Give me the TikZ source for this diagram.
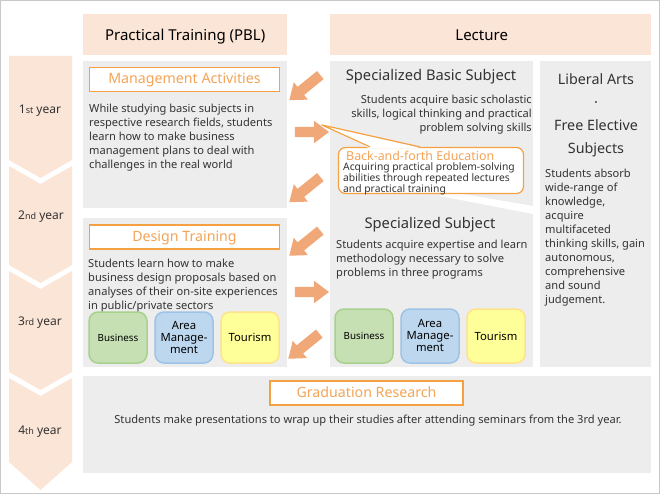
\documentclass[tikz,border=0pt]{standalone}
\usepackage{fontspec}
\setmainfont{Noto Sans}
\usepackage{tikz}
\usetikzlibrary{positioning,shapes.arrows}

\definecolor{peach}{HTML}{FBE5D6}
\definecolor{panelgray}{HTML}{EDEDED}
\definecolor{ttlorange}{HTML}{F5A142}
\definecolor{ttltext}{HTML}{F4A457}
\definecolor{textgray}{HTML}{333333}
\definecolor{arrowfill}{HTML}{F1A878}
\definecolor{framegray}{HTML}{C8C8C8}
\definecolor{bizgreen}{HTML}{C6E0B4}
\definecolor{bizgreenline}{HTML}{A9D18E}
\definecolor{areablue}{HTML}{BDD7EE}
\definecolor{areablueline}{HTML}{9DC3E6}
\definecolor{touryellow}{HTML}{FFFF99}
\definecolor{touryellowline}{HTML}{FFE38A}

\newcommand\ordsfx[1]{{\fontsize{9}{10}\selectfont #1}}

\begin{document}
\begin{tikzpicture}[x=1pt, y=-1pt,
    head/.style={fill=peach, inner sep=0pt, anchor=north west, minimum height=41pt, text height=11pt, text depth=0pt, font=\fontsize{15}{18}\selectfont, text=black},
    panel/.style={fill=panelgray, inner sep=0pt, anchor=north west},
    ttlbox/.style={draw=ttlorange, line width=1.3pt, fill=white, minimum width=190pt, minimum height=24pt, inner sep=0pt, text height=8.6pt, text depth=0pt, font=\fontsize{14.2}{16}\selectfont, text=ttltext},
    body/.style={inner sep=0pt, anchor=north west, align=left, text=textgray, font=\fontsize{11.1}{14}\selectfont},
    subj/.style={inner sep=0pt, anchor=base, text=textgray, font=\fontsize{14.7}{17}\selectfont},
    prog/.style={line width=1.5pt, rounded corners=9pt, minimum width=58pt, inner sep=0pt, align=center, text=black, font=\fontsize{11.3}{12}\selectfont},
    biz/.style={prog, draw=bizgreenline, fill=bizgreen, font=\fontsize{9.8}{12}\selectfont},
    area/.style={prog, draw=areablueline, fill=areablue},
    tour/.style={prog, draw=touryellowline, fill=touryellow},
    yearlbl/.style={inner sep=0pt, font=\fontsize{12}{14}\selectfont, text=textgray},
    fwdarrow/.style={single arrow, fill=arrowfill, inner xsep=0pt, inner ysep=5pt, minimum height=34pt, single arrow head extend=6pt, single arrow tip angle=74},
    backarrow/.style={fwdarrow, rotate=219, minimum height=40pt}
]
\useasboundingbox (0,0) rectangle (660,494);
\draw[framegray] (0.5,0.5) rectangle (659.5,493.5);

\fill[peach] (9,56) -- (72,56) -- (72,160) -- (40.5,178) -- (9,160) -- cycle;
\fill[peach] (9,166) -- (40.5,184) -- (72,166) -- (72,265) -- (40.5,283) -- (9,265) -- cycle;
\fill[peach] (9,271) -- (40.5,289) -- (72,271) -- (72,372) -- (40.5,390) -- (9,372) -- cycle;
\fill[peach] (9,378) -- (40.5,396) -- (72,378) -- (72,462) -- (40.5,490) -- (9,462) -- cycle;

\node[yearlbl] (year1) at (40,111) {1\ordsfx{st} year};
\node[yearlbl] (year2) at (41,217) {2\ordsfx{nd} year};
\node[yearlbl] (year3) at (40,323) {3\ordsfx{rd} year};
\node[yearlbl] (year4) at (40,432) {4\ordsfx{th} year};

\node[head, minimum width=204pt] (pbl) at (83,14) {Practical Training (PBL)};
\node[head, minimum width=321pt] (lecture) at (330,14) {Lecture\hspace*{18pt}};

\node[panel, minimum width=204pt, minimum height=147pt] (mgmt) at (83,61) {};
\node[panel, minimum width=204pt, minimum height=149pt] (design) at (83,218) {};
\node[panel, minimum width=203pt, minimum height=306pt] (spec) at (330,61) {};
\node[panel, minimum width=111pt, minimum height=306pt] (libarts) at (540,61) {};
\node[panel, minimum width=568pt, minimum height=97pt] (grad) at (83,376) {};

\node[ttlbox] (mgmtttl) at (184.5,79.5) {Management Activities};
\node[body] (mgmtbody) at (89,104.1) {While studying basic subjects in\\respective research fields, students\\learn how to make business\\management plans to deal with\\challenges in the real world};

\node[ttlbox] (designttl) at (184.5,237) {Design Training};
\node[body] (designbody) at (88,259.1) {Students learn how to make\\business design proposals based on\\analyses of their on-site experiences\\in public/private sectors};

\node[biz, minimum height=51pt] (pblbiz) at (118,337.5) {Business};
\node[area, minimum height=51pt] (pblarea) at (184,337.5) {Area\\Manage-\\ment};
\node[tour, minimum height=51pt] (pbltour) at (250,337.5) {Tourism};

\node[subj] (basicttl) at (431,81) {Specialized Basic Subject};
\node[body, anchor=north east, align=right] (basicbody) at (532,95.1) {Students acquire basic scholastic\\skills, logical thinking and practical\\problem solving skills};

\fill[white] (440,190) -- (533,206) -- (533,214) -- (440,196) -- cycle;
\node[draw=ttlorange, line width=1.2pt, fill=white, rounded corners=7pt, minimum width=185pt, minimum height=46pt, inner sep=0pt] (callout) at (431,170.5) {};
\coordinate (calltip) at (322,125);
\fill[white] ([xshift=31pt, yshift=-1.2pt]callout.north west) -- (calltip) -- ([xshift=83pt, yshift=-1.2pt]callout.north west) -- cycle;
\draw[ttlorange, line width=1.2pt, line join=round] ([xshift=32pt]callout.north west) -- (calltip) -- ([xshift=82pt]callout.north west);
\node[inner sep=0pt, anchor=west, text=ttltext, font=\fontsize{12.4}{14}\selectfont] (callttl) at (346,155.5) {Back-and-forth Education};
\node[body, font=\fontsize{10.3}{11}\selectfont] (callbody) at (343,162.5) {Acquiring practical problem-solving\\abilities through repeated lectures\\and practical training};

\node[subj] (specttl) at (430,228) {Specialized Subject};
\node[body] (specbody) at (336,240.1) {Students acquire expertise and learn\\methodology necessary to solve\\problems in three programs};

\node[biz, minimum height=54pt] (lecbiz) at (364,336) {Business};
\node[area, minimum height=54pt] (lecarea) at (430,336) {Area\\Manage-\\ment};
\node[tour, minimum height=54pt] (lectour) at (496,336) {Tourism};

\node[subj, align=center, anchor=north, font=\fontsize{14.3}{23}\selectfont] (libttl) at (596,73) {Liberal Arts\\·\\Free Elective\\Subjects};
\node[body] (libbody) at (545,169.1) {Students absorb\\wide-range of\\knowledge,\\acquire\\multifaceted\\thinking skills, gain\\autonomous,\\comprehensive\\and sound\\judgement.};

\node[ttlbox, minimum width=193pt] (gradttl) at (366.5,393) {Graduation Research};
\node[body, anchor=center] (gradbody) at (368,421) {Students make presentations to wrap up their studies after attending seminars from the 3rd year.};

\node[backarrow] (arr1) at (307.5,85.5) {};
\node[fwdarrow] (arr2) at (308.5,132) {};
\node[backarrow] (arr3) at (307.5,187.5) {};
\node[backarrow] (arr4) at (307.5,241) {};
\node[fwdarrow] (arr5) at (308.5,292) {};
\node[backarrow] (arr6) at (306.5,344) {};

\end{tikzpicture}
\end{document}
